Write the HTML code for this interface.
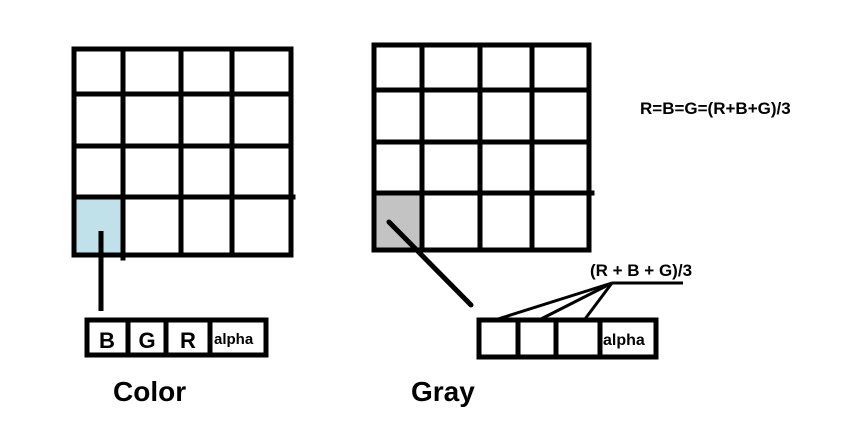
<!DOCTYPE html>
<html><head><style>body{margin:0;background:#fff}svg{display:block}text{font-family:"Liberation Sans",sans-serif;font-weight:bold;fill:#000}</style></head>
<body>
<svg width="867" height="425" viewBox="0 0 867 425">
<rect x="74" y="197" width="48" height="58" fill="#c0e0ea"/>
<rect x="375" y="193" width="47" height="57" fill="#c3c3c3"/>
<g stroke="#000" stroke-width="5" fill="none" stroke-linecap="square">
<rect x="74" y="49" width="217" height="206"/>
<line x1="123" y1="49" x2="123" y2="258"/><line x1="181" y1="49" x2="181" y2="255"/><line x1="232" y1="49" x2="232" y2="255"/>
<line x1="74" y1="94" x2="291" y2="94"/><line x1="74" y1="146" x2="291" y2="146"/><line x1="74" y1="197" x2="293" y2="197"/>
<line x1="101" y1="231" x2="101" y2="311" stroke-linecap="butt"/>
<rect x="374" y="45" width="215" height="205"/>
<line x1="422" y1="45" x2="422" y2="250"/><line x1="480" y1="45" x2="480" y2="250"/><line x1="532" y1="45" x2="532" y2="250"/>
<line x1="374" y1="90" x2="589" y2="90"/><line x1="374" y1="142" x2="589" y2="142"/><line x1="374" y1="193" x2="592" y2="193"/>
<line x1="389" y1="222" x2="471" y2="305" stroke-linecap="round"/>
<rect x="87" y="320" width="179" height="35"/>
<line x1="128" y1="320" x2="128" y2="355"/><line x1="166" y1="320" x2="166" y2="355"/><line x1="210" y1="320" x2="210" y2="355"/>
<rect x="479" y="320" width="177" height="37"/>
<line x1="518" y1="320" x2="518" y2="357"/><line x1="556" y1="320" x2="556" y2="357"/><line x1="600" y1="320" x2="600" y2="357"/>
</g>
<g stroke="#000" stroke-width="3">
<line x1="612" y1="283" x2="683" y2="283"/>
<line x1="612" y1="283" x2="498" y2="319"/><line x1="612" y1="283" x2="541" y2="319"/><line x1="612" y1="283" x2="585" y2="319"/>
</g>
<text x="107" y="348" font-size="22" text-anchor="middle">B</text>
<text x="147" y="348" font-size="22" text-anchor="middle">G</text>
<text x="188" y="348" font-size="22" text-anchor="middle">R</text>
<text x="214" y="344" font-size="15">alpha</text>
<text x="603" y="345" font-size="16">alpha</text>
<text x="590" y="276" font-size="17">(R + B + G)/3</text>
<text x="640" y="114" font-size="17">R=B=G=(R+B+G)/3</text>
<text x="113" y="401" font-size="28">Color</text>
<text x="411" y="401" font-size="28">Gray</text>
</svg>
</body></html>
